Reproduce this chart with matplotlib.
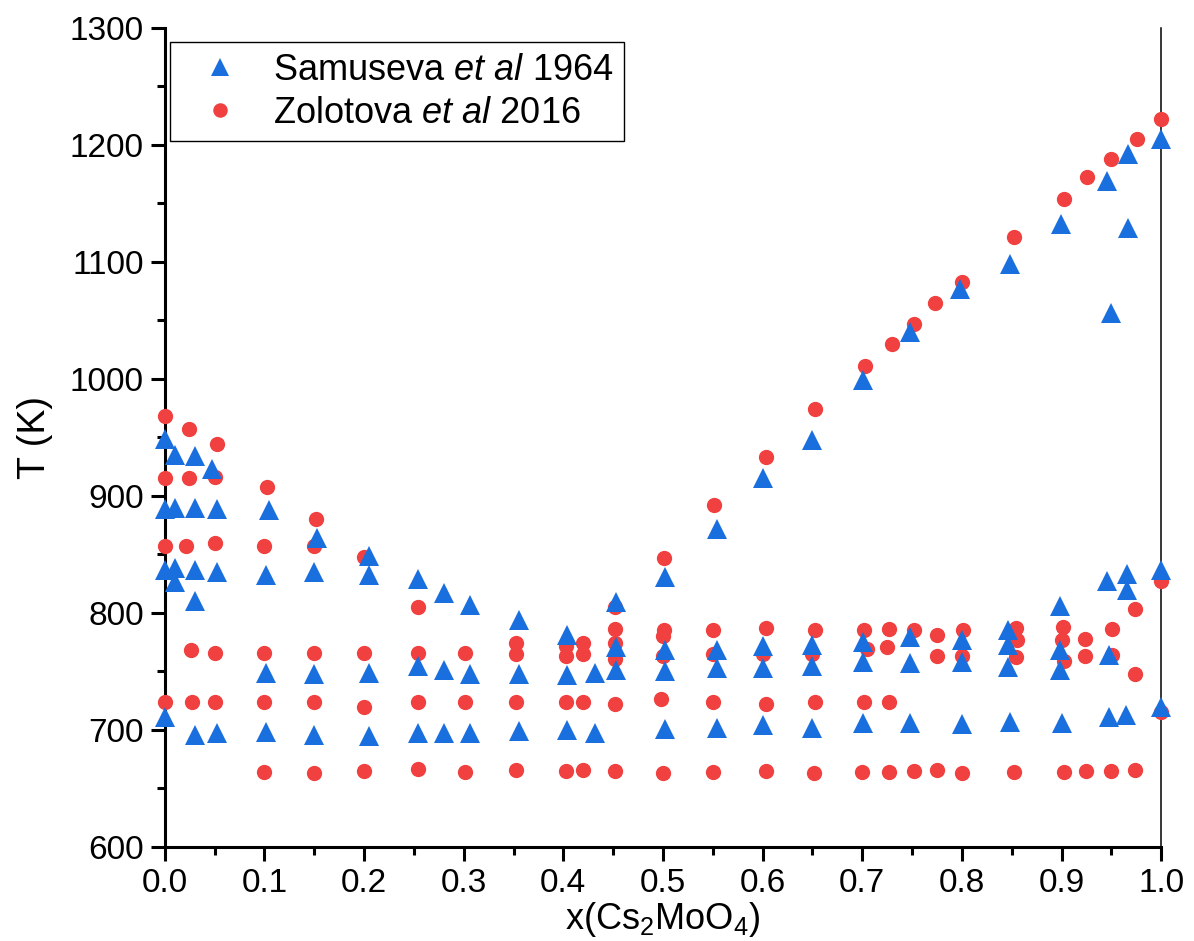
import numpy as np
import matplotlib.pyplot as plt
from matplotlib.ticker import MultipleLocator

plt.rcParams['font.family'] = ['Liberation Sans', 'DejaVu Sans']
plt.rcParams['mathtext.fontset'] = 'custom'
plt.rcParams['mathtext.rm'] = 'Liberation Sans'
plt.rcParams['mathtext.it'] = 'Liberation Sans:italic'

# Samuseva et al 1964 (triangles): composition x(Cs2MoO4) and T (K)
samuseva_x = [0.0, 0.0, 0.0, 0.0,
              0.01, 0.01, 0.01, 0.01,
              0.03, 0.03, 0.03, 0.03, 0.03,
              0.047,
              0.052, 0.052, 0.052,
              0.105, 0.102, 0.102, 0.102,
              0.153, 0.15, 0.15, 0.15,
              0.205, 0.205, 0.205, 0.205,
              0.254, 0.254, 0.254,
              0.28, 0.28, 0.28,
              0.306, 0.306, 0.306,
              0.356, 0.356, 0.356,
              0.404, 0.404, 0.404,
              0.432, 0.432,
              0.453, 0.453, 0.453,
              0.502, 0.502, 0.502, 0.502,
              0.554, 0.554, 0.554, 0.554,
              0.6, 0.6, 0.6, 0.6,
              0.65, 0.65, 0.65, 0.65,
              0.701, 0.701, 0.701, 0.701,
              0.748, 0.748, 0.748, 0.748,
              0.798, 0.8, 0.8, 0.8,
              0.848, 0.846, 0.846, 0.846, 0.848,
              0.899, 0.898, 0.898, 0.898, 0.9,
              0.946, 0.946, 0.95, 0.948, 0.948,
              0.967, 0.967, 0.966, 0.966, 0.965,
              1.0, 1.0, 1.0]
samuseva_T = [949, 889, 837, 711,
              935, 890, 838, 826,
              934, 890, 837, 810, 696,
              923,
              889, 835, 697,
              888, 832, 749, 698,
              864, 835, 748, 696,
              849, 832, 749, 695,
              829, 755, 697,
              817, 751, 697,
              807, 748, 697,
              794, 748, 699,
              781, 747, 700,
              749, 697,
              809, 771, 751,
              831, 768, 750, 701,
              872, 768, 753, 702,
              915, 772, 753, 704,
              948, 773, 755, 702,
              999, 775, 758, 706,
              1040, 779, 757, 706,
              1077, 777, 758, 705,
              1098, 785, 773, 754, 707,
              1132, 806, 768, 751, 706,
              1169, 827, 1056, 764, 711,
              1192, 1129, 833, 820, 713,
              1205, 837, 720]

# Zolotova et al 2016 (circles)
zolotova_x = [0.0, 0.0, 0.0, 0.0,
              0.024, 0.024, 0.021, 0.026, 0.027,
              0.052, 0.05, 0.05, 0.05, 0.05,
              0.103, 0.1, 0.1, 0.1, 0.1,
              0.152, 0.15, 0.15, 0.15, 0.15,
              0.2, 0.2, 0.2, 0.2,
              0.254, 0.254, 0.254, 0.254,
              0.301, 0.301, 0.301,
              0.352, 0.352, 0.352, 0.352,
              0.403, 0.403, 0.403, 0.403,
              0.42, 0.42, 0.42, 0.42,
              0.452, 0.452, 0.452, 0.452, 0.452, 0.452,
              0.501, 0.501, 0.5, 0.5, 0.498, 0.5,
              0.551, 0.55, 0.55, 0.55, 0.55,
              0.603, 0.603, 0.6, 0.603, 0.603,
              0.653, 0.653, 0.65, 0.653, 0.652,
              0.703, 0.702, 0.705, 0.702, 0.7,
              0.73, 0.727, 0.725, 0.727, 0.727,
              0.752, 0.752, 0.752,
              0.773, 0.775, 0.775, 0.775,
              0.8, 0.801, 0.8, 0.8,
              0.852, 0.854, 0.855, 0.854, 0.852,
              0.902, 0.901, 0.9, 0.902, 0.902,
              0.926, 0.924, 0.924, 0.925,
              0.95, 0.951, 0.951, 0.95,
              0.976, 0.974, 0.974, 0.974,
              1.0, 1.0, 1.0]
zolotova_T = [968, 915, 857, 724,
              957, 915, 857, 768, 724,
              944, 916, 860, 766, 724,
              908, 857, 766, 724, 664,
              880, 857, 766, 724, 663,
              848, 766, 720, 665,
              805, 766, 724, 667,
              766, 724, 664,
              774, 765, 724, 666,
              772, 763, 724, 665,
              774, 765, 724, 666,
              805, 786, 774, 761, 722, 665,
              847, 785, 780, 763, 726, 663,
              892, 785, 765, 724, 664,
              933, 787, 765, 722, 665,
              974, 785, 765, 724, 663,
              1011, 785, 769, 724, 664,
              1030, 786, 771, 724, 664,
              1047, 785, 665,
              1065, 781, 763, 666,
              1083, 785, 763, 663,
              1121, 787, 777, 762, 664,
              1154, 788, 777, 759, 664,
              1173, 778, 763, 665,
              1188, 786, 764, 665,
              1205, 803, 748, 666,
              1222, 827, 715]

blue = '#1A6FDF'
red = '#F14040'

fig = plt.figure(figsize=(11.94, 9.41), dpi=100)
ax = fig.add_axes([0.138, 0.1, 0.8345, 0.8703])

ax.plot(zolotova_x, zolotova_T, 'o', color=red, ms=11, mew=0,
        clip_on=False, zorder=3, label=r'Zolotova $\mathit{et\ al}$ 2016')
ax.plot(samuseva_x, samuseva_T, '^', color=blue, ms=14, mew=0,
        clip_on=False, zorder=4, label=r'Samuseva $\mathit{et\ al}$ 1964')

ax.set_xlim(0, 1.0)
ax.set_ylim(600, 1300)
ax.xaxis.set_major_locator(MultipleLocator(0.1))
ax.xaxis.set_minor_locator(MultipleLocator(0.05))
ax.yaxis.set_major_locator(MultipleLocator(100))
ax.yaxis.set_minor_locator(MultipleLocator(50))
ax.xaxis.set_major_formatter(plt.FormatStrFormatter('%.1f'))

ax.spines['top'].set_visible(False)
ax.spines['left'].set_linewidth(2.2)
ax.spines['bottom'].set_linewidth(2.2)
ax.spines['right'].set_linewidth(1.1)
ax.tick_params(which='major', direction='out', length=10, width=2.2,
               labelsize=24, pad=5, top=False, right=False)
ax.tick_params(which='minor', direction='out', length=5.5, width=2.2,
               top=False, right=False)

ax.set_xlabel(r'x(Cs$_2$MoO$_4$)', fontsize=26, labelpad=1)
ax.set_ylabel('T (K)', fontsize=27, labelpad=12)

handles, labels = ax.get_legend_handles_labels()
leg = ax.legend(handles[::-1], labels[::-1], loc='upper left',
                bbox_to_anchor=(0.005, 0.983), fontsize=26, frameon=True,
                fancybox=False, framealpha=1, edgecolor='black',
                borderaxespad=0, handletextpad=0.35, handlelength=2.2,
                labelspacing=0.22, markerscale=0.95, borderpad=0.3)
leg.get_frame().set_linewidth(1.0)

fig.savefig('out.png', dpi=100)
